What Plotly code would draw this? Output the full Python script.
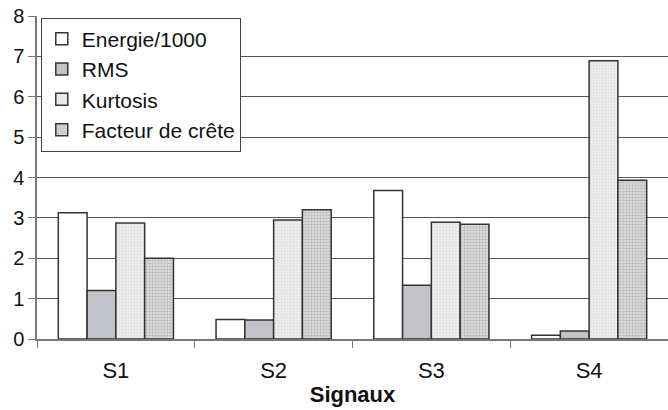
import plotly.graph_objects as go

categories = ["S1", "S2", "S3", "S4"]
energie = [3.13, 0.48, 3.68, 0.09]
rms = [1.2, 0.47, 1.33, 0.2]
kurtosis = [2.87, 2.95, 2.89, 6.89]
facteur = [2.0, 3.2, 2.84, 3.93]

y_ticks = [0, 1, 2, 3, 4, 5, 6, 7, 8]

outline = dict(color="#333333", width=1.5)

fig = go.Figure()
fig.add_trace(go.Bar(name="Energie/1000", x=categories, y=energie,
                     marker=dict(color="#ffffff", line=outline)))
fig.add_trace(go.Bar(name="RMS", x=categories, y=rms,
                     marker=dict(color="#c1c3c9", line=outline)))
fig.add_trace(go.Bar(name="Kurtosis", x=categories, y=kurtosis,
                     marker=dict(color="#e4e4e4", line=outline,
                                 pattern=dict(shape=".", fgcolor="#cfcfcf",
                                              bgcolor="#ececec", size=3, solidity=0.3))))
fig.add_trace(go.Bar(name="Facteur de crête", x=categories, y=facteur,
                     marker=dict(color="#d0d0d0", line=outline,
                                 pattern=dict(shape=".", fgcolor="#999999",
                                              bgcolor="#e0e0e0", size=3, solidity=0.5))))

fig.update_layout(
    width=668, height=410,
    margin=dict(l=37, r=0, t=16, b=71),
    paper_bgcolor="white", plot_bgcolor="white",
    barmode="group", bargap=0.27, bargroupgap=0,
    font=dict(family="Liberation Sans, Arial, sans-serif", size=21, color="#111111"),
    showlegend=True,
    legend=dict(x=0.006, y=0.995, xanchor="left", yanchor="top",
                bgcolor="white", bordercolor="#444444", borderwidth=1,
                font=dict(size=21), tracegroupgap=0, itemwidth=30),
    xaxis=dict(
        showgrid=False, showline=True, linecolor="#777777", linewidth=1.5,
        ticks="outside", tickson="boundaries", ticklen=7, tickcolor="#777777",
        tickfont=dict(size=22), ticklabelstandoff=11,
        title=dict(text="<b>Signaux</b>", font=dict(size=22), standoff=4),
    ),
    yaxis=dict(
        range=[0, 8], tickvals=y_ticks, showgrid=True, gridcolor="#555555", gridwidth=1,
        showline=True, linecolor="#777777", linewidth=1.5,
        ticks="outside", ticklen=7, tickcolor="#777777",
        tickfont=dict(size=20), zeroline=False,
    ),
)

fig.write_html("out.html")
